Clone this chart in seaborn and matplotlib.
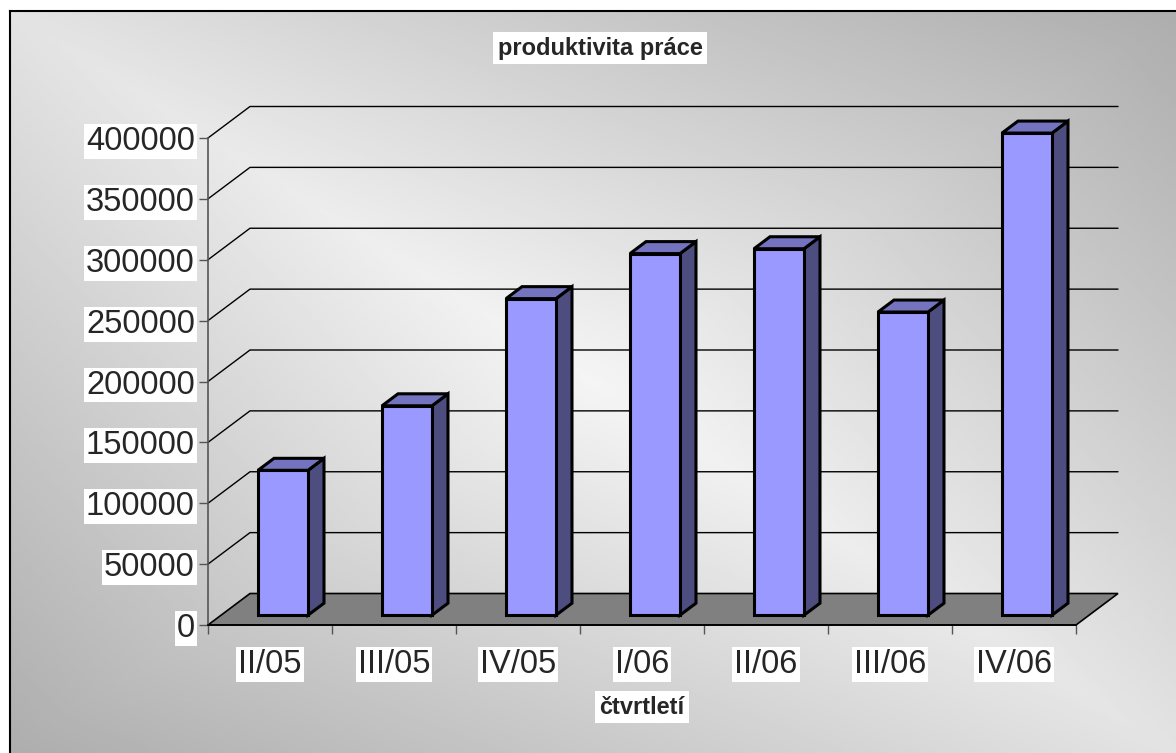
import numpy as np
import matplotlib
matplotlib.use("Agg")
import matplotlib.pyplot as plt
import seaborn as sns
from matplotlib.patches import Polygon

quarters = ["II/05", "III/05", "IV/05", "I/06", "II/06", "III/06", "IV/06"]
productivity = [119000, 172000, 260000, 297000, 301000, 249000, 396000]
y_ticks = list(range(0, 400001, 50000))

sns.set_theme(style="white")
plt.rcParams["font.family"] = ["Liberation Sans", "DejaVu Sans"]

W, H = 1176, 753
fig = plt.figure(figsize=(W / 100, H / 100), dpi=100)

# grey diagonal gradient behind everything, framed left/top like the excel chart area
bg = fig.add_axes([10 / W, 0, 1 - 10 / W, 1 - 11 / H], zorder=-10)
U, V = np.meshgrid(np.linspace(0, 1, 400), np.linspace(0, 1, 300))
shade = 0.96 - 0.28 * np.abs(U - V) - 0.07 * np.abs(U + V - 1)
bg.imshow(shade, cmap="gray", vmin=0, vmax=1, aspect="auto")
bg.set_xticks([])
bg.set_yticks([])
for s in ["right", "bottom"]:
    bg.spines[s].set_visible(False)
for s in ["left", "top"]:
    bg.spines[s].set_color("black")
    bg.spines[s].set_linewidth(1.5)

# front plane of the 3d box
ax = fig.add_axes([208 / W, 1 - 625 / H, 868 / W, 487 / H])
ax.patch.set_alpha(0)
ax.set_xlim(-0.5, 6.5)
ax.set_ylim(0, 400000)
px_x = 868 / 7
px_y = 487 / 400000


def off(dx, dy):
    # pixel offset -> data offset
    return dx / px_x, dy / px_y


wall = off(42, 31.5)
bar_front = off(13, 9.8)
bar_depth = off(16, 12)

# floor
floor = Polygon([(-0.5, 0), (6.5, 0), (6.5 + wall[0], wall[1]), (-0.5 + wall[0], wall[1])],
                closed=True, facecolor="#808080", edgecolor="black", lw=1.2,
                clip_on=False, zorder=1)
ax.add_patch(floor)

# back wall gridlines + left wall diagonals
for v in y_ticks[1:]:
    ax.plot([-0.5, -0.5 + wall[0], 6.5 + wall[0]], [v, v + wall[1], v + wall[1]],
            color="black", lw=1, clip_on=False, zorder=0.5)

sns.barplot(x=quarters, y=productivity, color="#9999ff", saturation=1, width=0.403,
            edgecolor="black", linewidth=2.2, ax=ax, zorder=3)

for p in list(ax.patches):
    if p is floor:
        continue
    p.set_x(p.get_x() + bar_front[0])
    p.set_y(bar_front[1])
    p.set_clip_on(False)
    x0, x1 = p.get_x(), p.get_x() + p.get_width()
    y0, y1 = p.get_y(), p.get_y() + p.get_height()
    bx, by = bar_depth
    side = Polygon([(x1, y0), (x1 + bx, y0 + by), (x1 + bx, y1 + by), (x1, y1)],
                   closed=True, facecolor="#4d4d80", edgecolor="black", lw=2.2,
                   clip_on=False, zorder=2.9)
    top = Polygon([(x0, y1), (x1, y1), (x1 + bx, y1 + by), (x0 + bx, y1 + by)],
                  closed=True, facecolor="#7373bf", edgecolor="black", lw=2.2,
                  clip_on=False, zorder=2.9)
    ax.add_patch(side)
    ax.add_patch(top)

ax.set_xlabel("")
ax.set_ylabel("")
ax.spines["top"].set_visible(False)
ax.spines["right"].set_visible(False)
ax.spines["left"].set_color("#555555")
ax.spines["left"].set_linewidth(1.2)
ax.spines["bottom"].set_color("black")
ax.spines["bottom"].set_linewidth(1.2)

ax.set_yticks(y_ticks)
ax.set_yticklabels([str(v) for v in y_ticks])
ax.tick_params(axis="y", left=True, length=6.5, width=1, color="#555555", pad=3, labelsize=23.5)
ax.set_xticks(range(len(quarters)))
ax.set_xticklabels(quarters)
ax.set_xticks(np.arange(-0.5, len(quarters), 1), minor=True)
ax.tick_params(axis="x", which="major", bottom=True, length=0, pad=17, labelsize=23.5)
ax.tick_params(axis="x", which="minor", bottom=True, length=6.5, width=1, color="#555555")
for t in ax.get_xticklabels() + ax.get_yticklabels():
    t.set_bbox(dict(facecolor="white", edgecolor="none", pad=1.5))

box = dict(facecolor="white", edgecolor="none", pad=3)
fig.text(600 / W, 1 - 48 / H, "produktivita práce", ha="center", va="center",
         fontsize=17, fontweight="bold", bbox=box)
fig.text(642 / W, 1 - 707 / H, "čtvrtletí", ha="center", va="center",
         fontsize=17, fontweight="bold", bbox=box)

fig.savefig("out.png", dpi=100)
